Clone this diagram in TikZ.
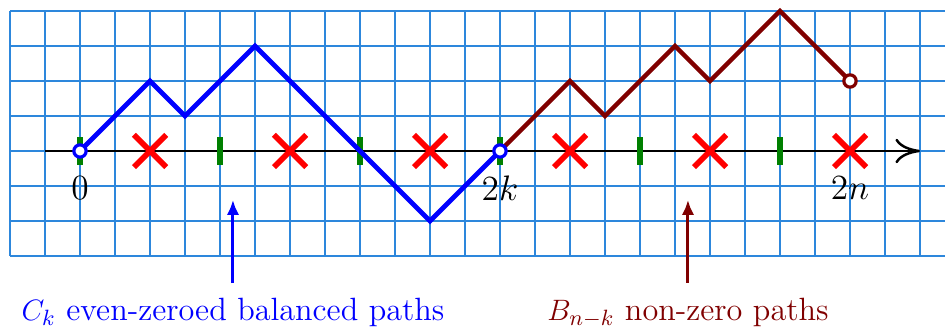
\documentclass[tikz,border=0pt]{standalone}
\usepackage{amsmath,amssymb}
\usepackage{tikz}
\usepackage{xcolor}
\usetikzlibrary{shapes.misc,arrows.meta}

\definecolor{gridblue}{RGB}{45,135,220}
\definecolor{darkred}{RGB}{128,0,0}

\begin{document}
\begin{tikzpicture}[x=0.5cm, y=0.5cm,
    zero/.style={circle, draw, fill=white, line width=1.3pt, minimum size=5pt, inner sep=0pt},
    even/.style={rectangle, fill=green!50!black, minimum width=2.8pt, minimum height=0.4cm, inner sep=0pt},
    odd/.style={cross out, draw=red, line width=2.3pt, minimum size=0.38cm, inner sep=0pt},
    lbl/.style={font=\Large},
    caption/.style={font=\fontsize{13.1}{16}\selectfont, inner sep=2pt}]

    \useasboundingbox (-2.286,-5.143) rectangle (24.714,4.314);

    % Grid
    \draw[gridblue, line width=0.5pt, step=0.5cm] (-2,-3) grid (24.714,4);

    % Axis
    \draw[line width=1pt, -{To[length=10pt, width=10pt]}] (-1,0) -- (24,0);

    % Even positions
    \node[even] (e0) at (0,0) {};
    \node[even] (e4) at (4,0) {};
    \node[even] (e8) at (8,0) {};
    \node[even] (e12) at (12,0) {};
    \node[even] (e16) at (16,0) {};
    \node[even] (e20) at (20,0) {};

    % Forbidden zeros
    \node[odd] (x2) at (2,0) {};
    \node[odd] (x6) at (6,0) {};
    \node[odd] (x10) at (10,0) {};
    \node[odd] (x14) at (14,0) {};
    \node[odd] (x18) at (18,0) {};
    \node[odd] (x22) at (22,0) {};

    % Paths
    \draw[blue, line width=2pt] (0,0) -- (2,2) -- (3,1) -- (5,3) -- (10,-2) -- (12,0);
    \draw[darkred, line width=1.8pt] (12,0) -- (14,2) -- (15,1) -- (17,3) -- (18,2) -- (20,4) -- (22,2);

    % End points
    \node[zero, draw=blue] (start) at (0,0) {};
    \node[zero, draw=blue] (mid) at (12,0) {};
    \node[zero, draw=darkred] (end) at (22,2) {};

    % Labels
    \node[lbl] (l0) at (0,-1.05) {$0$};
    \node[lbl] (l2k) at (12,-1.05) {$2k$};
    \node[lbl] (l2n) at (22,-1.05) {$2n$};

    \node[caption, text=blue] (cat) at (4.37,-4.62) {$C_k$ even-zeroed balanced paths};
    \node[caption, text=darkred] (ball) at (17.37,-4.62) {$B_{n-k}$ non-zero paths};

    \coordinate (cattip) at (4.37,-1.4);
    \coordinate (balltip) at (17.37,-1.4);

    % Connections
    \draw[blue, line width=1.2pt, -{Latex[length=6pt, width=5pt]}, shorten <=4pt] (cat) -- (cattip);
    \draw[darkred, line width=1.2pt, -{Latex[length=6pt, width=5pt]}, shorten <=4pt] (ball) -- (balltip);
\end{tikzpicture}
\end{document}
